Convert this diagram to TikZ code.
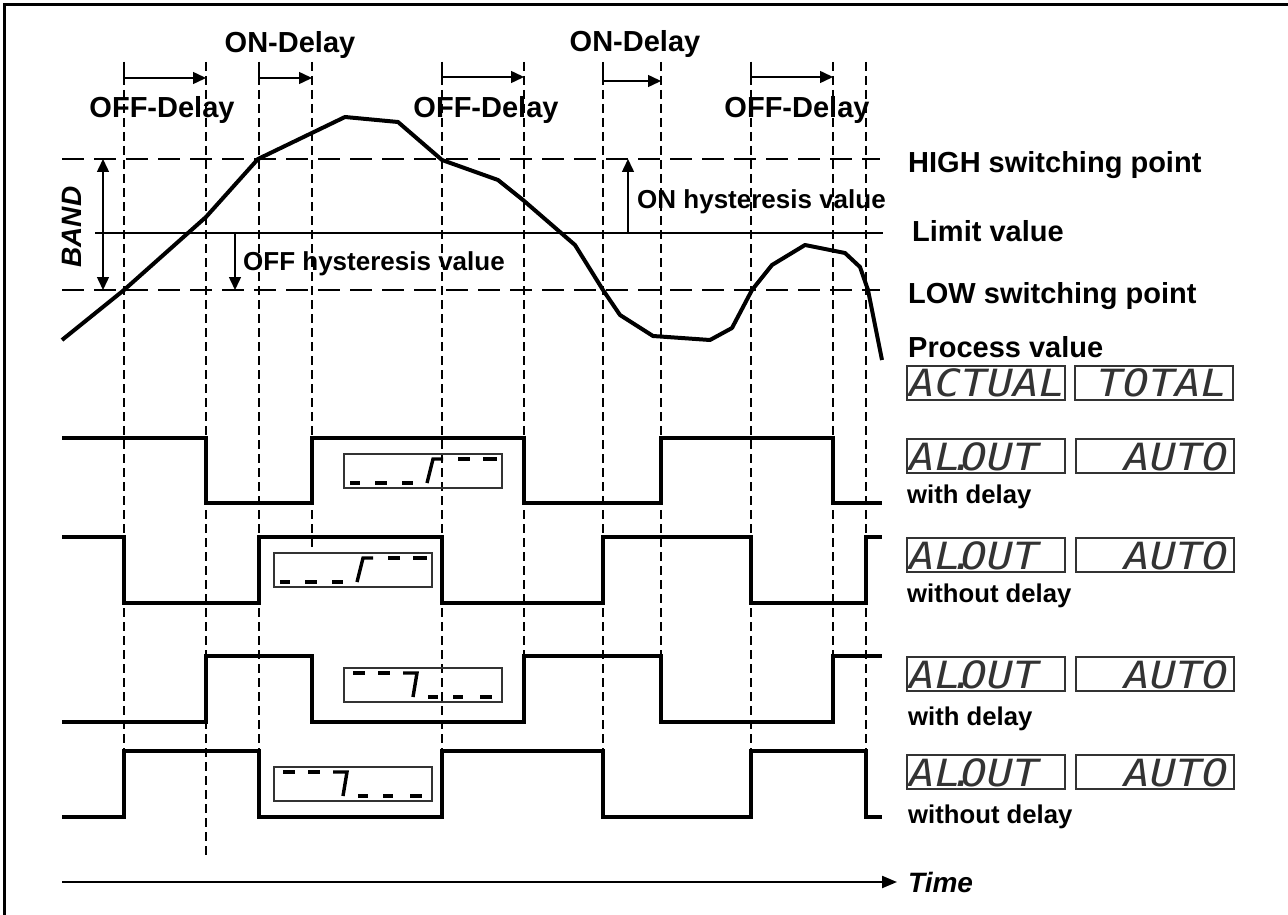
\documentclass[tikz,border=0pt]{standalone}
\usepackage{fontspec}
\setmainfont{Liberation Sans}
\newfontfamily\lcdfont[FakeStretch=1.15]{DejaVu Sans Mono}
\usetikzlibrary{arrows.meta}
\newcommand{\riseDisp}[2]{%
  \begin{scope}[shift={(#1,#2)}]
    \draw[dispbox] (0,0) rectangle (158,34);
    \draw[seg] (6,29) -- (16,29);
    \draw[seg] (31,29) -- (43,29);
    \draw[seg] (58,29) -- (69,29);
    \draw[seg] (83,29) -- (89,5) -- (99,5);
    \draw[seg] (114,5) -- (126,5);
    \draw[seg] (139,5) -- (153,5);
  \end{scope}}
\newcommand{\fallDisp}[2]{%
  \begin{scope}[shift={(#1,#2)}]
    \draw[dispbox] (0,0) rectangle (158,34);
    \draw[seg] (9,5) -- (21,5);
    \draw[seg] (34,5) -- (46,5);
    \draw[seg] (59,5) -- (73,5) -- (69,29);
    \draw[seg] (84,29) -- (94,29);
    \draw[seg] (109,29) -- (119,29);
    \draw[seg] (136,29) -- (148,29);
  \end{scope}}
\begin{document}
\begin{tikzpicture}[x=1pt,y=-1pt,
  vline/.style={line width=1.4pt, dash pattern=on 9pt off 5pt},
  hdash/.style={line width=2.5pt, dash pattern=on 22pt off 10pt},
  wave/.style={line width=4.5pt, line join=miter},
  pcurve/.style={line width=4pt, line join=round},
  tip/.style={-{Triangle[length=13pt,width=12pt]}},
  darrow/.style={line width=1.5pt, tip},
  dispbox/.style={draw=black!80, line width=1.4pt},
  seg/.style={line width=3.4pt},
  lcdbox/.style={draw=black!80, line width=1.7pt, minimum width=158pt, minimum height=34pt, inner sep=0pt, anchor=north west},
  lcdtxt/.style={font=\lcdfont\itshape\fontsize{37.5}{38}\selectfont, inner sep=0pt, text=black!80},
  big/.style={font=\bfseries\fontsize{29}{30}\selectfont, inner sep=0pt, anchor=base west},
  bigc/.style={font=\bfseries\fontsize{29}{30}\selectfont, inner sep=0pt, anchor=base},
  small/.style={font=\bfseries\fontsize{26}{27}\selectfont, inner sep=0pt, anchor=base west},
  ]
\useasboundingbox (0,0) rectangle (1288,915);
\fill[white] (0,0) rectangle (1288,915);
% frame
\draw[line width=3pt] (4,915) -- (4,5) -- (1288,5);

% vertical dashed lines
\foreach \x/\e in {124/751, 206/857, 259/751, 312/552, 442/751, 524/656, 603/751, 661/656, 751/751, 833/656, 866/751}
  \draw[vline] (\x,62) -- (\x,\e);

% horizontal levels
\draw[hdash] (62,159) -- (880,159);
\draw[line width=1.8pt] (95,233) -- (883,233);
\draw[hdash] (62,290) -- (880,290);

% delay arrows
\draw[darrow] (124,62) -- (124,78) -- (206,78);
\draw[darrow] (259,62) -- (259,78) -- (312,78);
\draw[darrow] (442,62) -- (442,77) -- (524,77);
\draw[darrow] (603,63) -- (603,81) -- (661,81);
\draw[darrow] (751,62) -- (751,77) -- (833,77);

% band and hysteresis arrows
\draw[line width=1.5pt, {Triangle[length=13pt,width=12pt]}-{Triangle[length=13pt,width=12pt]}] (103,159) -- (103,290);
\draw[darrow] (235,233) -- (235,290);
\draw[darrow] (628,233) -- (628,159);

% process value curve
\draw[pcurve] (62,340) -- (124,290) -- (206,217) -- (258,159) -- (345,117) -- (398,122) -- (442,160) -- (498,180) -- (523,200) -- (575,245) -- (603,290) -- (620,315) -- (653,336) -- (710,340) -- (732,328) -- (752,290) -- (772,265) -- (805,245) -- (845,253) -- (860,267) -- (868,290) -- (882,360);

% waveforms
\draw[wave] (62,438) -- (206,438) -- (206,503) -- (312,503) -- (312,438) -- (524,438) -- (524,503) -- (661,503) -- (661,438) -- (833,438) -- (833,503) -- (882,503);
\draw[wave] (62,537) -- (124,537) -- (124,603) -- (259,603) -- (259,537) -- (442,537) -- (442,603) -- (603,603) -- (603,537) -- (751,537) -- (751,603) -- (866,603) -- (866,537) -- (882,537);
\draw[wave] (62,722) -- (206,722) -- (206,656) -- (312,656) -- (312,722) -- (524,722) -- (524,656) -- (661,656) -- (661,722) -- (833,722) -- (833,656) -- (882,656);
\draw[wave] (62,817) -- (124,817) -- (124,751) -- (259,751) -- (259,817) -- (442,817) -- (442,751) -- (603,751) -- (603,817) -- (751,817) -- (751,751) -- (866,751) -- (866,817) -- (882,817);

% small displays
\riseDisp{344}{454}
\riseDisp{274}{553}
\fallDisp{344}{668}
\fallDisp{274}{767}

% time axis
\draw[line width=2.2pt, -{Triangle[length=15pt,width=12pt]}] (62,882) -- (897,882);
\node[font=\bfseries\itshape\fontsize{28}{29}\selectfont, inner sep=0pt, anchor=base west] (time) at (908,892) {Time};

% top labels
\node[bigc] (on1) at (290,53) {ON-Delay};
\node[bigc] (on2) at (635,52) {ON-Delay};
\node[bigc] (off1) at (162,118) {OFF-Delay};
\node[bigc] (off2) at (486,118) {OFF-Delay};
\node[bigc] (off3) at (797,118) {OFF-Delay};
\node[small] (offh) at (243,270) {OFF hysteresis value};
\node[small] (onh) at (637,208) {ON hysteresis value};
\node[font=\bfseries\itshape\fontsize{28}{29}\selectfont, inner sep=0pt, rotate=90] (band) at (72,227) {BAND};

% right labels
\node[big] (high) at (908,172) {HIGH switching point};
\node[big] (limit) at (912,241) {Limit value};
\node[big] (low) at (908,303) {LOW switching point};
\node[big] (proc) at (908,357) {Process value};

% LCD boxes
\node[lcdbox] (b0l) at (906,365) {};
\node[lcdbox] (b0r) at (1074,365) {};
\node[lcdtxt, anchor=base west] (t0l) at (909,396) {ACTUAL};
\node[lcdtxt, anchor=base east] (t0r) at (1228,396) {TOTAL};

\foreach \n/\y in {1/438, 2/537, 3/656, 4/754} {
  \node[lcdbox] (b\n l) at (906,\y) {};
  \node[lcdbox] (b\n r) at (1075,\y) {};
  \node[lcdtxt, anchor=base west] (t\n l) at (909,\y+32) {AL\rlap{\kern-11pt.}OUT};
  \node[lcdtxt, anchor=base east] (t\n r) at (1229,\y+32) {AUTO};
}

\node[small, font=\bfseries\fontsize{25.7}{27}\selectfont] (w1) at (907,503) {with delay};
\node[small, font=\bfseries\fontsize{25.7}{27}\selectfont] (w2) at (907,602) {without delay};
\node[small, font=\bfseries\fontsize{25.7}{27}\selectfont] (w3) at (908,725) {with delay};
\node[small, font=\bfseries\fontsize{25.7}{27}\selectfont] (w4) at (908,823) {without delay};
\end{tikzpicture}
\end{document}
